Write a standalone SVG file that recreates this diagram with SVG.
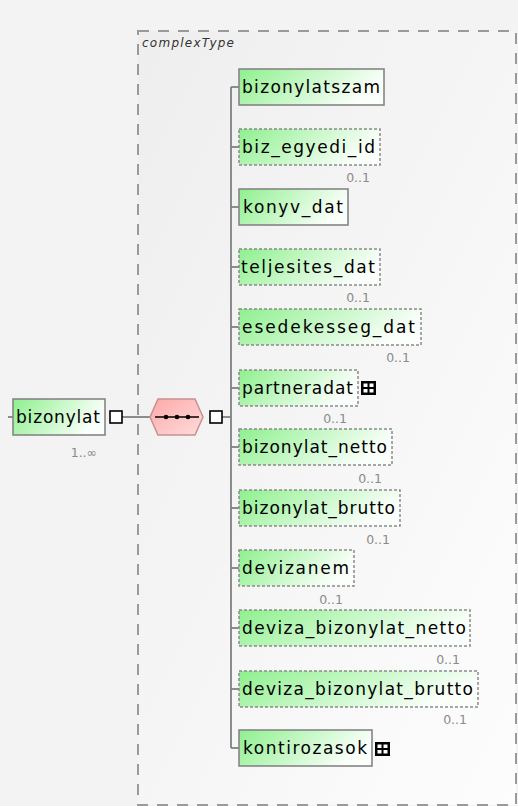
<svg xmlns="http://www.w3.org/2000/svg" width="518" height="806" viewBox="0 0 518 806">
<defs>
<linearGradient id="gElem" x1="0" y1="0" x2="1" y2="0.3">
<stop offset="0" stop-color="#8ef08e"/>
<stop offset="1" stop-color="#fbfffb"/>
</linearGradient>
<linearGradient id="gSeq" x1="0" y1="0" x2="1" y2="1">
<stop offset="0" stop-color="#ffa8a8"/>
<stop offset="1" stop-color="#ffdcdc"/>
</linearGradient>
<linearGradient id="gBg" x1="0" y1="0" x2="1" y2="1">
<stop offset="0" stop-color="#eeeeee"/>
<stop offset="1" stop-color="#fdfdfd"/>
</linearGradient>
<style>
.el{fill:url(#gElem);stroke:#858585;stroke-width:1.6}
.opt{fill:url(#gElem);stroke:#8a8a8a;stroke-width:1.5;stroke-dasharray:3 2}
.lbl{font-family:"DejaVu Sans",sans-serif;font-size:17px;fill:#000}
.occ{font-family:"DejaVu Sans",sans-serif;font-size:12.5px;fill:#8a8a8a;text-anchor:end}
.ct{font-family:"DejaVu Sans",sans-serif;font-size:12px;font-style:italic;fill:#333}
.con{stroke:#808080;stroke-width:1.8;fill:none}
.sq{fill:#fff;stroke:#000;stroke-width:1.6}
.ex{fill:#000}
.exi{fill:#fff}
</style>
</defs>
<rect x="0" y="0" width="518" height="806" fill="#f3f3f3"/>
<g id="complexType">
<rect x="138" y="31" width="378" height="774" fill="url(#gBg)" stroke="#9a9a9a" stroke-width="2" stroke-dasharray="11 9"/>
<text class="ct" x="142" y="47" textLength="92" lengthAdjust="spacing">complexType</text>
</g>
<g id="connectors">
<line class="con" x1="8" y1="417" x2="13" y2="417"/>
<line class="con" x1="122" y1="417" x2="150" y2="417"/>
<line class="con" x1="222" y1="417" x2="231" y2="417"/>
<line class="con" x1="231" y1="87" x2="231" y2="748"/>
<line class="con" x1="231" y1="87" x2="239" y2="87"/>
<line class="con" x1="231" y1="147" x2="239" y2="147"/>
<line class="con" x1="231" y1="207" x2="239" y2="207"/>
<line class="con" x1="231" y1="267" x2="239" y2="267"/>
<line class="con" x1="231" y1="327" x2="239" y2="327"/>
<line class="con" x1="231" y1="388" x2="239" y2="388"/>
<line class="con" x1="231" y1="447" x2="239" y2="447"/>
<line class="con" x1="231" y1="508" x2="239" y2="508"/>
<line class="con" x1="231" y1="568" x2="239" y2="568"/>
<line class="con" x1="231" y1="628" x2="239" y2="628"/>
<line class="con" x1="231" y1="689" x2="239" y2="689"/>
<line class="con" x1="231" y1="748" x2="239" y2="748"/>
</g>
<g id="bizonylat">
<rect class="el" x="13" y="399" width="92" height="36"/>
<text class="lbl" x="16" y="423" textLength="84" lengthAdjust="spacing">bizonylat</text>
<rect class="sq" x="110" y="411" width="12" height="12"/>
<text class="occ" x="97" y="457">1..∞</text>
</g>
<g id="sequence">
<polygon points="150,417 158,399 195,399 203,417 195,435 158,435" fill="url(#gSeq)" stroke="#c99090" stroke-width="1.5"/>
<line x1="155" y1="417" x2="199" y2="417" stroke="#000" stroke-width="1.5"/>
<circle cx="166" cy="417" r="2.3" fill="#000"/>
<circle cx="177" cy="417" r="2.3" fill="#000"/>
<circle cx="188" cy="417" r="2.3" fill="#000"/>
<rect class="sq" x="210" y="411" width="12" height="12"/>
</g>
<g id="bizonylatszam">
<rect class="el" x="239" y="69" width="145" height="36"/>
<text class="lbl" x="242" y="93" textLength="138" lengthAdjust="spacing">bizonylatszam</text>
</g>
<g id="biz_egyedi_id">
<rect class="opt" x="239" y="129" width="141" height="36"/>
<text class="lbl" x="242" y="153" textLength="133" lengthAdjust="spacing">biz_egyedi_id</text>
<text class="occ" x="370" y="182">0..1</text>
</g>
<g id="konyv_dat">
<rect class="el" x="239" y="189" width="109" height="36"/>
<text class="lbl" x="243" y="213" textLength="100" lengthAdjust="spacing">konyv_dat</text>
</g>
<g id="teljesites_dat">
<rect class="opt" x="239" y="249" width="141" height="36"/>
<text class="lbl" x="241" y="273" textLength="134" lengthAdjust="spacing">teljesites_dat</text>
<text class="occ" x="370" y="302">0..1</text>
</g>
<g id="esedekesseg_dat">
<rect class="opt" x="239" y="309" width="182" height="36"/>
<text class="lbl" x="242" y="333" textLength="173" lengthAdjust="spacing">esedekesseg_dat</text>
<text class="occ" x="410" y="362">0..1</text>
</g>
<g id="partneradat">
<rect class="opt" x="239" y="370" width="119" height="36"/>
<text class="lbl" x="242" y="394" textLength="111" lengthAdjust="spacing">partneradat</text>
<rect class="ex" x="361" y="381" width="15" height="14"/>
<rect class="exi" x="363.5" y="383.5" width="4" height="3.5"/>
<rect class="exi" x="369.5" y="383.5" width="4" height="3.5"/>
<rect class="exi" x="363.5" y="389" width="4" height="3.5"/>
<rect class="exi" x="369.5" y="389" width="4" height="3.5"/>
<text class="occ" x="347" y="423">0..1</text>
</g>
<g id="bizonylat_netto">
<rect class="opt" x="239" y="429" width="153" height="36"/>
<text class="lbl" x="242" y="453" textLength="145" lengthAdjust="spacing">bizonylat_netto</text>
<text class="occ" x="382" y="483">0..1</text>
</g>
<g id="bizonylat_brutto">
<rect class="opt" x="239" y="490" width="161" height="36"/>
<text class="lbl" x="242" y="514" textLength="153" lengthAdjust="spacing">bizonylat_brutto</text>
<text class="occ" x="390" y="544">0..1</text>
</g>
<g id="devizanem">
<rect class="opt" x="239" y="550" width="115" height="36"/>
<text class="lbl" x="242" y="574" textLength="107" lengthAdjust="spacing">devizanem</text>
<text class="occ" x="343" y="604">0..1</text>
</g>
<g id="deviza_bizonylat_netto">
<rect class="opt" x="239" y="610" width="231" height="36"/>
<text class="lbl" x="242" y="634" textLength="224" lengthAdjust="spacing">deviza_bizonylat_netto</text>
<text class="occ" x="460" y="664">0..1</text>
</g>
<g id="deviza_bizonylat_brutto">
<rect class="opt" x="239" y="671" width="239" height="36"/>
<text class="lbl" x="242" y="695" textLength="231" lengthAdjust="spacing">deviza_bizonylat_brutto</text>
<text class="occ" x="467" y="724">0..1</text>
</g>
<g id="kontirozasok">
<rect class="el" x="239" y="730" width="133" height="36"/>
<text class="lbl" x="243" y="754" textLength="124" lengthAdjust="spacing">kontirozasok</text>
<rect class="ex" x="375" y="742" width="15" height="14"/>
<rect class="exi" x="377.5" y="744.5" width="4" height="3.5"/>
<rect class="exi" x="383.5" y="744.5" width="4" height="3.5"/>
<rect class="exi" x="377.5" y="750" width="4" height="3.5"/>
<rect class="exi" x="383.5" y="750" width="4" height="3.5"/>
</g>
</svg>
